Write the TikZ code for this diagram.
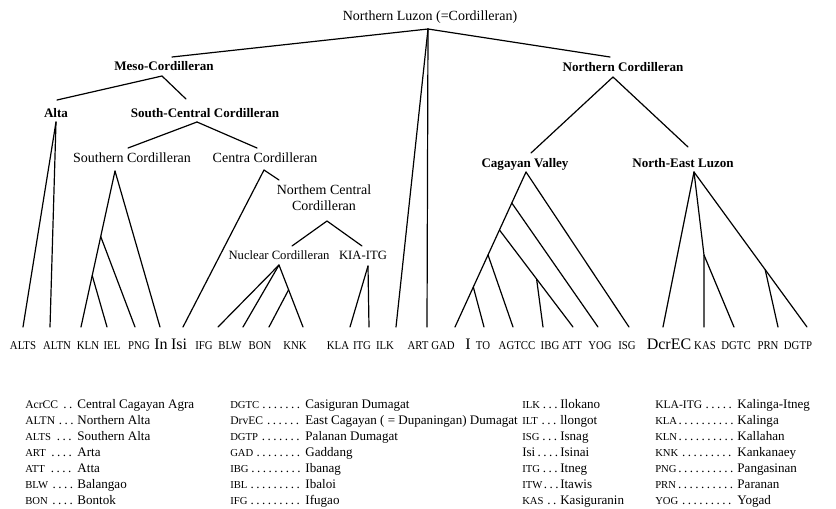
\documentclass[tikz,border=0pt]{standalone}
\usepackage{fontspec}
\setmainfont{Liberation Serif}
\newfontfamily\leaffont[FakeStretch=0.9]{Liberation Serif}
\usetikzlibrary{calc}

\tikzset{
  branch/.style={line width=0.9pt, line join=round, line cap=round},
  grp/.style={anchor=base, inner sep=0.75pt, font=\fontsize{9.8}{11}\selectfont\bfseries},
  sub/.style={anchor=base, inner sep=0.75pt, font=\fontsize{10.5}{12}\selectfont},
  nuc/.style={anchor=base, inner sep=0.75pt, font=\fontsize{9.5}{11}\selectfont},
  leaf/.style={anchor=base, inner sep=0.75pt, font=\leaffont\fontsize{9}{10}\selectfont},
  bigleaf/.style={anchor=base, inner sep=0.75pt, font=\fontsize{12}{13}\selectfont},
  legend/.style={anchor=base west, inner sep=0pt, font=\fontsize{9.8}{11}\selectfont},
}
\newcommand{\smab}{\fontsize{8}{9}\selectfont}
\newcommand{\mdab}{\fontsize{8.7}{9}\selectfont}

\begin{document}
\begin{tikzpicture}[x=0.75pt,y=0.75pt,yscale=-1,xscale=1]
\useasboundingbox (0,0) rectangle (836,508);

% Text Node
\node[sub] (root) at (430,20) {Northern Luzon (=Cordilleran)};
\node[grp] (meso) at (164,70) {Meso-Cordilleran};
\node[grp] (alta) at (56,117) {Alta};
\node[grp] (scc) at (205,117) {South-Central Cordilleran};
\node[sub] (south) at (132,162) {Southern Cordilleran};
\node[sub] (centra) at (265,162) {Centra Cordilleran};
\node[sub, anchor=center, align=center, font=\fontsize{10.5}{12}\selectfont] (ncc) at (324,198) {Northem Central\\Cordilleran};
\node[nuc] (nuclear) at (279,259) {Nuclear Cordilleran};
\node[nuc] (kia) at (363,259) {KIA-ITG};
\node[grp] (ncord) at (623,71) {Northern Cordilleran};
\node[grp] (cagayan) at (525,167) {Cagayan Valley};
\node[grp] (nel) at (683,167) {North-East Luzon};

% branching points
\coordinate (r) at (428,29);
\coordinate (m0) at (172,57);   \coordinate (m) at (162,76);
\coordinate (a0) at (57,100);   \coordinate (a) at (56,122);
\coordinate (sc0) at (186,99);  \coordinate (sc) at (197,122);
\coordinate (s0) at (128,148);  \coordinate (s) at (115,171);
\coordinate (c0) at (257,148);  \coordinate (c) at (264,170);
\coordinate (nc0) at (279,180); \coordinate (nc) at (327,221);
\coordinate (nu0) at (292,246); \coordinate (nu) at (279,265);
\coordinate (ki0) at (362,246); \coordinate (ki) at (368,266);
\coordinate (n0) at (610,57);   \coordinate (n) at (613,77);
\coordinate (cv0) at (531,153); \coordinate (cv) at (526,172);
\coordinate (ne0) at (688,147); \coordinate (ne) at (694,172);
\coordinate (ne1) at (704,255);

% leaf ends
\foreach \n/\x in {ALTS/23, ALTN/50, KLN/81, IEL/107, PNG/135, In/160, Isi/183,
  IFG/218, BLW/243, BON/269, KNK/303, KLA/350, ITG/369, ILK/396, ART/427,
  GAD/455, ITO/484, AGTCC/513, IBG/543, ATT/573, YOG/598, ISG/629,
  DcrEC/663, KAS/704, DGTC/734, PRN/778, DGTP/807}
  \coordinate (e\n) at (\x,327);

\coordinate (s1) at ($(s)!0.42!(eKLN)$);
\coordinate (s2) at ($(s)!0.67!(eKLN)$);
\coordinate (nu1) at ($(nu)!0.40!(eKNK)$);
\coordinate (cv1) at ($(cv)!0.20!(eGAD)$);
\coordinate (cv2) at ($(cv)!0.374!(eGAD)$);
\coordinate (cv3) at ($(cv)!0.535!(eGAD)$);
\coordinate (cv4) at ($(cv)!0.742!(eGAD)$);
\coordinate (cv5) at ($(cv2)!0.505!(eATT)$);
\coordinate (ne2) at ($(ne)!0.63!(eDGTP)$);

%Straight Lines
\draw[branch] (r) -- (m0);
\draw[branch] (r) -- (n0);
\draw[branch] (r) -- (eILK);
\draw[branch] (r) -- (eART);
\draw[branch] (m) -- (a0);
\draw[branch] (m) -- (sc0);
\draw[branch] (a) -- (eALTS);
\draw[branch] (a) -- (eALTN);
\draw[branch] (sc) -- (s0);
\draw[branch] (sc) -- (c0);
\draw[branch] (s) -- (eKLN);
\draw[branch] (s) -- (eIn);
\draw[branch] (s1) -- (ePNG);
\draw[branch] (s2) -- (eIEL);
\draw[branch] (c) -- (eIsi);
\draw[branch] (c) -- (nc0);
\draw[branch] (nc) -- (nu0);
\draw[branch] (nc) -- (ki0);
\draw[branch] (nu) -- (eIFG);
\draw[branch] (nu) -- (eBLW);
\draw[branch] (nu) -- (eKNK);
\draw[branch] (nu1) -- (eBON);
\draw[branch] (ki) -- (eKLA);
\draw[branch] (ki) -- (eITG);
\draw[branch] (n) -- (cv0);
\draw[branch] (n) -- (ne0);
%Straight Lines
\draw[branch] (cv) -- (eGAD);
\draw[branch] (cv) -- (eISG);
\draw[branch] (cv1) -- (eYOG);
\draw[branch] (cv2) -- (eATT);
\draw[branch] (cv5) -- (eIBG);
\draw[branch] (cv3) -- (eAGTCC);
\draw[branch] (cv4) -- (eITO);
\draw[branch] (ne) -- (eDcrEC);
\draw[branch] (ne) -- (ne1) -- (eKAS);
\draw[branch] (ne1) -- (eDGTC);
\draw[branch] (ne) -- (eDGTP);
\draw[branch] (ne2) -- (ePRN);

% Text Node
\foreach \n/\x in {ALTS/23, ALTN/57, KLN/88, IEL/112, PNG/139, IFG/204, BLW/230,
  BON/260, KNK/295, KLA/338, ITG/362, ILK/385, ART/418, GAD/443, TO/483,
  AGTCC/517, IBG/550, ATT/572, YOG/600, ISG/627, KAS/705, DGTC/736, PRN/768, DGTP/798}
  \node[leaf] (l\n) at (\x,349) {\n};
\node[bigleaf] (lIn) at (161,349) {In};
\node[bigleaf] (lIsi) at (179,349) {Isi};
\node[bigleaf] (lI) at (468,349) {I};
\node[bigleaf] (lDcrEC) at (669,349) {DcrEC};

% Text Node
\foreach \ab/\nm [count=\i from 0] in {\mdab AcrCC/Central Cagayan Agra, \mdab ALTN/Northern Alta,
  \smab ALTS/Southern Alta, \smab ART/Arta, \smab ATT/Atta, \smab BLW/Balangao, \smab BON/Bontok}
  \node[legend] (ka\i) at (25,408+16*\i) {\makebox[37.5pt][l]{{\ab}\,\dotfill}\,\nm};
\foreach \ab/\nm [count=\i from 0] in {\smab DGTC/Casiguran Dumagat, \mdab DrvEC/East Cagayan ( = Dupaningan) Dumagat,
  \smab DGTP/Palanan Dumagat, \smab GAD/Gaddang, \smab IBG/Ibanag, \smab IBL/Ibaloi, \smab IFG/Ifugao}
  \node[legend] (kb\i) at (230,408+16*\i) {\makebox[54.75pt][l]{{\ab}\dotfill}\,\nm};
\foreach \ab/\nm [count=\i from 0] in {\smab ILK/Ilokano, \smab ILT/llongot, \smab ISG/Isnag, Isi/Isinai,
  \smab ITG/Itneg, \smab ITW/Itawis, \smab KAS/Kasiguranin}
  \node[legend] (kc\i) at (522,408+16*\i) {\makebox[28.5pt][l]{{\ab}\dotfill}\nm};
\foreach \ab/\nm [count=\i from 0] in {\mdab KLA-ITG/Kalinga-Itneg, \smab KLA/Kalinga, \smab KLN/Kallahan,
  \smab KNK/Kankanaey, \smab PNG/Pangasinan, \smab PRN/Paranan, \smab YOG/Yogad}
  \node[legend] (kd\i) at (655,408+16*\i) {\makebox[60pt][l]{{\ab}\dotfill}\,\nm};

\end{tikzpicture}
\end{document}
